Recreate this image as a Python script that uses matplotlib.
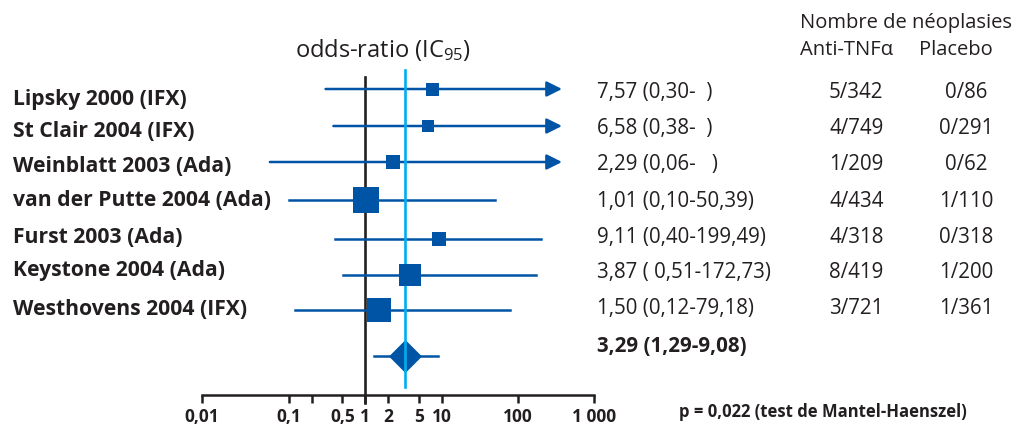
import numpy as np
import matplotlib
matplotlib.use("Agg")
import matplotlib.pyplot as plt
from matplotlib.ticker import FixedLocator, FixedFormatter

plt.rcParams['font.family'] = ['Open Sans', 'DejaVu Sans']
plt.rcParams['mathtext.fontset'] = 'custom'
plt.rcParams['mathtext.rm'] = 'Open Sans'
plt.rcParams['mathtext.it'] = 'Open Sans:italic'
plt.rcParams['mathtext.bf'] = 'Open Sans:bold'

# ---------------- data ----------------
studies = ["Lipsky 2000 (IFX)", "St Clair 2004 (IFX)", "Weinblatt 2003 (Ada)",
           "van der Putte 2004 (Ada)", "Furst 2003 (Ada)", "Keystone 2004 (Ada)",
           "Westhovens 2004 (IFX)"]
odds_ratio = [7.57, 6.58, 2.29, 1.01, 9.11, 3.87, 1.50]
ci_low = [0.30, 0.38, 0.06, 0.10, 0.40, 0.51, 0.12]
ci_high = [None, None, None, 50.39, 199.49, 172.73, 79.18]   # None = open (arrow)
or_labels = ["7,57 (0,30-  )", "6,58 (0,38-  )", "2,29 (0,06-   )",
             "1,01 (0,10-50,39)", "9,11 (0,40-199,49)", "3,87 ( 0,51-172,73)",
             "1,50 (0,12-79,18)"]
anti_tnf = ["5/342", "4/749", "1/209", "4/434", "4/318", "8/419", "3/721"]
placebo = ["0/86", "0/291", "0/62", "1/110", "0/318", "1/200", "1/361"]
weight = [13, 12.5, 13.5, 25.5, 14.5, 23, 23.5]   # relative square size

pooled_or = 3.29
pooled_low = 1.29
pooled_high = 9.08
pooled_label = "3,29 (1,29-9,08)"
p_text = "p = 0,022 (test de Mantel-Haenszel)"
arrow_end = 380.0

tick_values = [0.01, 0.1, 0.2, 0.5, 1, 2, 5, 10, 100, 1000]
tick_labels = ["0,01", "0,1", "", "0,5", "1", "2", "5", "10", "100", "1 000"]

# ---------------- style / layout ----------------
W, H = 1022, 425
BLUE = "#0054a6"
LIGHT = "#00aeef"
DARK = "#231f20"

row_px = [89, 126, 162, 200, 239, 275, 310]
label_base = [105, 137, 172, 206, 243, 276, 315]
right_base = [98, 134, 170, 207, 243, 278, 314]
pooled_px = 356
axis_px = 395

fig = plt.figure(figsize=(W / 100, H / 100), dpi=100)
ax = fig.add_axes([202 / W, 0, 392 / W, 1])

K = 87.0 / 76.0


def fwd(x):
    lx = np.log10(np.clip(np.asarray(x, dtype=float), 1e-9, None))
    return np.where(lx >= -1, lx, -1 + (lx + 1) * K)


def inv(y):
    y = np.asarray(y, dtype=float)
    return np.where(y >= -1, 10 ** y, 10 ** (-1 + (y + 1) / K))


ax.set_xscale('function', functions=(fwd, inv))
ax.set_xlim(0.01, 1000)
ax.set_ylim(H, 0)
ax.patch.set_alpha(0)

for s in ['top', 'left', 'right']:
    ax.spines[s].set_visible(False)
ax.spines['bottom'].set_position(('data', axis_px))
ax.spines['bottom'].set_linewidth(1.8)
ax.spines['bottom'].set_color(DARK)
ax.xaxis.set_major_locator(FixedLocator(tick_values))
ax.xaxis.set_major_formatter(FixedFormatter(tick_labels))
ax.xaxis.set_minor_locator(FixedLocator([]))
ax.tick_params(axis='x', direction='out', length=5.8, width=1.8, color=DARK,
               pad=3.5, labelsize=12.5, labelcolor=DARK)
for t in ax.get_xticklabels():
    t.set_fontweight('bold')
ax.set_yticks([])

# reference lines
ax.plot([1, 1], [77, axis_px + 8], color=DARK, lw=1.9, zorder=2)
ax.plot([pooled_or, pooled_or], [70, 387], color=LIGHT, lw=1.9, zorder=4)

# study rows
for i in range(len(studies)):
    y = row_px[i]
    if ci_high[i] is None:
        ax.annotate('', xy=(arrow_end, y), xytext=(ci_low[i], y),
                    arrowprops=dict(arrowstyle='-|>', color=BLUE, lw=1.8,
                                    mutation_scale=23, shrinkA=0, shrinkB=0),
                    zorder=3)
    else:
        ax.plot([ci_low[i], ci_high[i]], [y, y], color=BLUE, lw=1.8, zorder=3)
    ax.plot([odds_ratio[i]], [y], marker='s', ms=weight[i] * 0.72,
            color=BLUE, mec=BLUE, mew=0, zorder=5)

# pooled
ax.plot([pooled_low, pooled_high], [pooled_px, pooled_px], color=BLUE, lw=1.8, zorder=3)
diamond = [(-1, 0), (0, 1), (1, 0), (0, -1), (-1, 0)]
ax.plot([pooled_or], [pooled_px], marker=diamond, ms=33 * 0.72, color=BLUE,
        mew=0, zorder=3)


def fx(x):
    return x / W


def fy(y):
    return 1 - y / H


# texts
fig.text(fx(295), fy(57), r"odds-ratio (IC$_{\mathregular{95}}$)", fontsize=17,
         color=DARK, va='baseline', ha='left')
fig.text(fx(800), fy(28), "Nombre de néoplasies", fontsize=14.5, color=DARK,
         va='baseline', ha='left')
fig.text(fx(800), fy(55), "Anti-TNFα", fontsize=14.5, color=DARK,
         va='baseline', ha='left')
fig.text(fx(919), fy(55), "Placebo", fontsize=14.5, color=DARK,
         va='baseline', ha='left')

for i in range(len(studies)):
    fig.text(fx(13), fy(label_base[i]), studies[i], fontsize=15.2, fontweight='bold',
             color=DARK, va='baseline', ha='left')
    fig.text(fx(597), fy(right_base[i]), or_labels[i], fontsize=14.8, color=DARK,
             va='baseline', ha='left')
    fig.text(fx(829), fy(right_base[i]), anti_tnf[i], fontsize=14.8, color=DARK,
             va='baseline', ha='left')
    fig.text(fx(966), fy(right_base[i]), placebo[i], fontsize=14.8, color=DARK,
             va='baseline', ha='center')

fig.text(fx(597), fy(352), pooled_label, fontsize=14.8, fontweight='bold',
         color=DARK, va='baseline', ha='left')
fig.text(fx(679), fy(417), p_text, fontsize=12, fontweight='bold', color=DARK,
         va='baseline', ha='left')

fig.savefig("out.png", dpi=100)
